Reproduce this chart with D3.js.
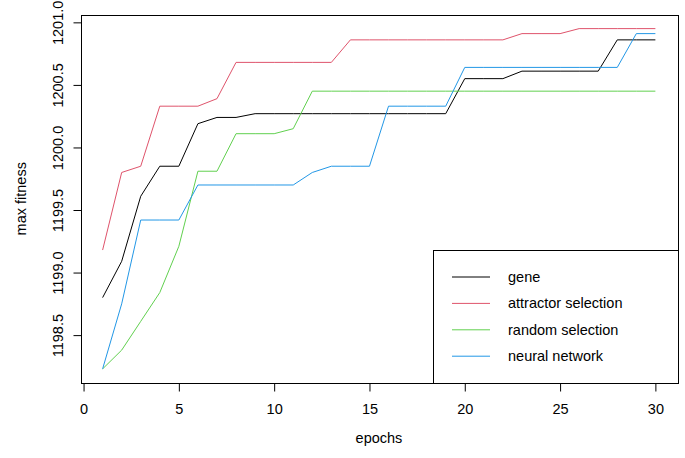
<!DOCTYPE html>
<html>
<head>
<meta charset="utf-8">
<script src="https://cdn.jsdelivr.net/npm/d3@7"></script>
<style>
  html, body { margin: 0; padding: 0; background: #fff; }
  svg { display: block; }
  text { font-family: "Liberation Sans", Arial, Helvetica, sans-serif; font-size: 14.5px; fill: #000; }
</style>
</head>
<body>
<div id="chart"></div>
<script>
const epochs = d3.range(1, 31);
const gene = [1198.80, 1199.09, 1199.61, 1199.85, 1199.85, 1200.19, 1200.24, 1200.24,
  1200.27, 1200.27, 1200.27, 1200.27, 1200.27, 1200.27, 1200.27, 1200.27, 1200.27, 1200.27, 1200.27,
  1200.55, 1200.55, 1200.55, 1200.61, 1200.61, 1200.61, 1200.61, 1200.61, 1200.86, 1200.86, 1200.86];
const attractorSelection = [1199.18, 1199.80, 1199.85, 1200.33, 1200.33, 1200.33, 1200.39,
  1200.68, 1200.68, 1200.68, 1200.68, 1200.68, 1200.68,
  1200.86, 1200.86, 1200.86, 1200.86, 1200.86, 1200.86, 1200.86, 1200.86, 1200.86,
  1200.91, 1200.91, 1200.91, 1200.95, 1200.95, 1200.95, 1200.95, 1200.95];
const randomSelection = [1198.23, 1198.38, 1198.61, 1198.84, 1199.21, 1199.81, 1199.81,
  1200.11, 1200.11, 1200.11, 1200.15,
  1200.45, 1200.45, 1200.45, 1200.45, 1200.45, 1200.45, 1200.45, 1200.45, 1200.45, 1200.45,
  1200.45, 1200.45, 1200.45, 1200.45, 1200.45, 1200.45, 1200.45, 1200.45, 1200.45];
const neuralNetwork = [1198.23, 1198.75, 1199.42, 1199.42, 1199.42,
  1199.70, 1199.70, 1199.70, 1199.70, 1199.70, 1199.70, 1199.80, 1199.85, 1199.85, 1199.85,
  1200.33, 1200.33, 1200.33, 1200.33,
  1200.64, 1200.64, 1200.64, 1200.64, 1200.64, 1200.64, 1200.64, 1200.64, 1200.64, 1200.91, 1200.91];
const seriesNames = ["gene", "attractor selection", "random selection", "neural network"];
const seriesColors = ["#000000", "#DF536B", "#61D04F", "#2297E6"];
const xTicks = [0, 5, 10, 15, 20, 25, 30];
const yTicks = [1198.5, 1199.0, 1199.5, 1200.0, 1200.5, 1201.0];

const W = 685, H = 458;
const box = { left: 80.5, right: 677.5, top: 15, bottom: 382.5 };

const allSeries = [gene, attractorSelection, randomSelection, neuralNetwork];
const xExt = d3.extent(epochs);
const xPad = (xExt[1] - xExt[0]) * 0.04;
const allVals = allSeries.flat();
const yExt = d3.extent(allVals);
const yPad = (yExt[1] - yExt[0]) * 0.04;

const x = d3.scaleLinear().domain([xExt[0] - xPad, xExt[1] + xPad]).range([box.left, box.right]);
const y = d3.scaleLinear().domain([yExt[0] - yPad, yExt[1] + yPad]).range([box.bottom, box.top]);

const svg = d3.select("#chart").append("svg").attr("width", W).attr("height", H);

// series lines
const line = d3.line().x((d, i) => x(epochs[i])).y(d => y(d));
allSeries.forEach((s, k) => {
  svg.append("path").datum(s)
    .attr("d", line)
    .attr("fill", "none")
    .attr("stroke", seriesColors[k])
    .attr("stroke-width", 1);
});

// plot box
svg.append("rect")
  .attr("x", Math.round(box.left) + 0.5).attr("y", Math.round(box.top) + 0.5)
  .attr("width", Math.round(box.right) - Math.round(box.left))
  .attr("height", Math.round(box.bottom) - Math.round(box.top))
  .attr("fill", "none").attr("stroke", "#000").attr("stroke-width", 1);

// x axis
const xAxis = d3.axisBottom(x).tickValues(xTicks).tickSize(8).tickPadding(8).tickFormat(d3.format("d"));
const gx = svg.append("g").attr("transform", `translate(0,${Math.round(box.bottom) + 0.5})`).call(xAxis);
gx.select(".domain").attr("d", `M${x(xTicks[0])},0H${x(xTicks[xTicks.length - 1])}`).attr("stroke", "#000");
gx.selectAll("line").attr("stroke", "#000");
gx.selectAll("text").attr("font-size", null).attr("font-family", null).attr("y", 19).attr("dy", "0.71em")
  .attr("y", 20);

// y axis
const yAxis = d3.axisLeft(y).tickValues(yTicks).tickSize(8).tickFormat(d3.format(".1f"));
const gy = svg.append("g").attr("transform", `translate(${Math.round(box.left) + 0.5},0)`).call(yAxis);
gy.select(".domain").attr("d", `M0,${y(yTicks[0])}V${y(yTicks[yTicks.length - 1])}`).attr("stroke", "#000");
gy.selectAll("line").attr("stroke", "#000");
gy.selectAll("text")
  .attr("font-size", null).attr("font-family", null)
  .attr("x", null).attr("dy", null)
  .attr("text-anchor", "middle")
  .attr("transform", "translate(-19,0) rotate(-90)");
gy.attr("font-size", null).attr("font-family", null);
gx.attr("font-size", null).attr("font-family", null);

// axis titles
svg.append("text").attr("x", (box.left + box.right) / 2).attr("y", 443)
  .attr("text-anchor", "middle").text("epochs");
svg.append("text").attr("transform", `translate(25.5,${(box.top + box.bottom) / 2}) rotate(-90)`)
  .attr("text-anchor", "middle").text("max fitness");

// legend
const lg = svg.append("g");
lg.append("rect").attr("x", 433.5).attr("y", 250.5)
  .attr("width", Math.round(box.right) - 433).attr("height", Math.round(box.bottom) - 250)
  .attr("fill", "#fff").attr("stroke", "#000").attr("stroke-width", 1);
seriesNames.forEach((name, k) => {
  const yy = 277 + k * 26.4;
  lg.append("line").attr("x1", 452).attr("x2", 490).attr("y1", yy).attr("y2", yy)
    .attr("stroke", seriesColors[k]).attr("stroke-width", 1);
  lg.append("text").attr("x", 508).attr("y", yy).attr("dy", "0.35em").text(name);
});
</script>
</body>
</html>
